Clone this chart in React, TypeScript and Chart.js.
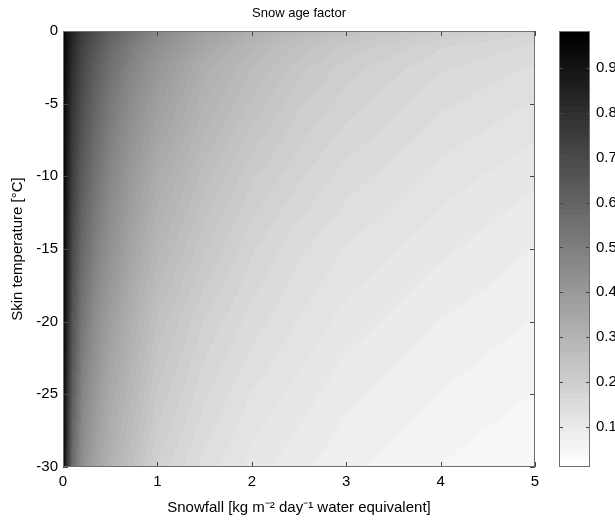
import React, { useEffect, useRef } from "react";
import { Chart, registerables } from "chart.js";

Chart.register(...registerables);

// Snowfall grid (kg m-2 day-1 water equivalent)
const SNOWFALL = [0, 0.05, 0.1, 0.2, 0.35, 0.5, 0.75, 1, 1.5, 2, 2.5, 3, 4, 5];
// Skin temperature grid (°C)
const SKIN_TEMP = [0, -1, -2.5, -5, -10, -15, -20, -25, -30];

// Snow age factor, one row per skin temperature
const AGE_AT_0C = [0.98, 0.9, 0.84, 0.76, 0.68, 0.62, 0.54, 0.47, 0.38, 0.32, 0.28, 0.25, 0.21, 0.18];
const AGE_AT_M1C = [0.98, 0.89, 0.82, 0.73, 0.65, 0.58, 0.5, 0.44, 0.35, 0.29, 0.25, 0.22, 0.18, 0.16];
const AGE_AT_M2_5C = [0.98, 0.88, 0.8, 0.71, 0.62, 0.55, 0.47, 0.41, 0.32, 0.27, 0.23, 0.2, 0.165, 0.145];
const AGE_AT_M5C = [0.98, 0.87, 0.78, 0.68, 0.59, 0.52, 0.44, 0.38, 0.3, 0.25, 0.21, 0.185, 0.15, 0.13];
const AGE_AT_M10C = [0.98, 0.85, 0.74, 0.63, 0.54, 0.47, 0.39, 0.33, 0.26, 0.21, 0.18, 0.155, 0.125, 0.105];
const AGE_AT_M15C = [0.98, 0.83, 0.7, 0.58, 0.49, 0.43, 0.35, 0.29, 0.225, 0.18, 0.15, 0.13, 0.105, 0.085];
const AGE_AT_M20C = [0.98, 0.81, 0.66, 0.53, 0.44, 0.38, 0.31, 0.25, 0.19, 0.155, 0.13, 0.11, 0.085, 0.07];
const AGE_AT_M25C = [0.98, 0.78, 0.62, 0.48, 0.4, 0.34, 0.28, 0.22, 0.165, 0.13, 0.11, 0.09, 0.07, 0.055];
const AGE_AT_M30C = [0.98, 0.75, 0.57, 0.44, 0.36, 0.31, 0.25, 0.19, 0.14, 0.11, 0.09, 0.075, 0.055, 0.04];

const AGE_ROWS = [
  AGE_AT_0C, AGE_AT_M1C, AGE_AT_M2_5C, AGE_AT_M5C, AGE_AT_M10C,
  AGE_AT_M15C, AGE_AT_M20C, AGE_AT_M25C, AGE_AT_M30C,
];

const X_TICKS = [0, 1, 2, 3, 4, 5];
const Y_TICKS = [0, -5, -10, -15, -20, -25, -30];
const CBAR_TICKS = [0.1, 0.2, 0.3, 0.4, 0.5, 0.6, 0.7, 0.8, 0.9];
const CBAR_MIN = 0.01;
const CBAR_MAX = 0.983;
const N_LEVELS = 64;

const TITLE = "Snow age factor";
const X_TITLE = "Snowfall [kg m\u207B\u00B2 day\u207B\u00B9 water equivalent]";
const Y_TITLE = "Skin temperature [\u00B0C]";

const FONT = "'Liberation Sans', Arial, Helvetica, sans-serif";
const AX_SIZE = 15;

function greyFor(v: number): number {
  let idx = Math.floor(((v - CBAR_MIN) / (CBAR_MAX - CBAR_MIN)) * N_LEVELS);
  if (idx < 0) idx = 0;
  if (idx > N_LEVELS - 1) idx = N_LEVELS - 1;
  return Math.round(255 * (1 - idx / (N_LEVELS - 1)));
}

function bracket(arr: number[], v: number, desc: boolean): [number, number] {
  for (let i = 0; i < arr.length - 1; i++) {
    const a = arr[i], b = arr[i + 1];
    const inside = desc ? v <= a && v >= b : v >= a && v <= b;
    if (inside) return [i, (v - a) / (b - a)];
  }
  if (desc) return v > arr[0] ? [0, 0] : [arr.length - 2, 1];
  return v < arr[0] ? [0, 0] : [arr.length - 2, 1];
}

const heatmapPlugin = {
  id: "heatmap",
  beforeDatasetsDraw(chart: any) {
    const { ctx, chartArea: a, scales } = chart;
    const xs = scales.x, ys = scales.y;
    const left = Math.round(a.left), top = Math.round(a.top);
    const w = Math.round(a.right) - left, h = Math.round(a.bottom) - top;
    const img = ctx.createImageData(w, h);
    const colIdx: [number, number][] = [];
    for (let px = 0; px < w; px++) {
      colIdx.push(bracket(SNOWFALL, xs.getValueForPixel(left + px + 0.5), false));
    }
    for (let py = 0; py < h; py++) {
      const [j, tj] = bracket(SKIN_TEMP, ys.getValueForPixel(top + py + 0.5), true);
      const r0 = AGE_ROWS[j], r1 = AGE_ROWS[j + 1];
      for (let px = 0; px < w; px++) {
        const [i, ti] = colIdx[px];
        const v0 = r0[i] + (r0[i + 1] - r0[i]) * ti;
        const v1 = r1[i] + (r1[i + 1] - r1[i]) * ti;
        const v = v0 + (v1 - v0) * tj;
        const g = greyFor(v);
        const o = (py * w + px) * 4;
        img.data[o] = g;
        img.data[o + 1] = g;
        img.data[o + 2] = g;
        img.data[o + 3] = 255;
      }
    }
    ctx.putImageData(img, left, top);
  },
  afterDatasetsDraw(chart: any) {
    const { ctx, chartArea: a, scales } = chart;
    const L = 5;
    ctx.save();
    ctx.lineWidth = 1;
    // inner ticks
    ctx.strokeStyle = "#444";
    ctx.beginPath();
    for (const v of X_TICKS) {
      const x = Math.round(scales.x.getPixelForValue(v)) + 0.5;
      ctx.moveTo(x, a.bottom); ctx.lineTo(x, a.bottom - L);
      ctx.moveTo(x, a.top); ctx.lineTo(x, a.top + L);
    }
    for (const v of Y_TICKS) {
      const y = Math.round(scales.y.getPixelForValue(v)) + 0.5;
      ctx.moveTo(a.left, y); ctx.lineTo(a.left + L, y);
      ctx.moveTo(a.right, y); ctx.lineTo(a.right - L, y);
    }
    ctx.stroke();
    ctx.strokeStyle = "#707070";
    ctx.strokeRect(a.left + 0.5, a.top + 0.5, a.right - a.left - 1, a.bottom - a.top - 1);

    // colour bar
    const cb = scales.cb;
    const cbLeft = Math.round(a.right) + 24;
    const cbW = 31;
    for (let k = 0; k < N_LEVELS; k++) {
      const v0 = CBAR_MIN + (k * (CBAR_MAX - CBAR_MIN)) / N_LEVELS;
      const v1 = CBAR_MIN + ((k + 1) * (CBAR_MAX - CBAR_MIN)) / N_LEVELS;
      const y0 = cb.getPixelForValue(v0);
      const y1 = cb.getPixelForValue(v1);
      const g = Math.round(255 * (1 - k / (N_LEVELS - 1)));
      ctx.fillStyle = `rgb(${g},${g},${g})`;
      ctx.fillRect(cbLeft, Math.floor(y1), cbW, Math.ceil(y0) - Math.floor(y1));
    }
    ctx.strokeStyle = "#444";
    ctx.beginPath();
    for (const v of CBAR_TICKS) {
      const y = Math.round(cb.getPixelForValue(v)) + 0.5;
      ctx.moveTo(cbLeft, y); ctx.lineTo(cbLeft + 4, y);
      ctx.moveTo(cbLeft + cbW, y); ctx.lineTo(cbLeft + cbW - 4, y);
    }
    ctx.stroke();
    ctx.strokeStyle = "#707070";
    ctx.strokeRect(cbLeft + 0.5, Math.round(cb.top) + 0.5, cbW - 1, Math.round(cb.bottom - cb.top) - 1);

    // title
    ctx.fillStyle = "#000";
    ctx.font = `13px ${FONT}`;
    ctx.textAlign = "center";
    ctx.textBaseline = "middle";
    ctx.fillText(TITLE, (a.left + a.right) / 2, 13);
    ctx.restore();
  },
};

function noPad(s: any) {
  s.paddingTop = 0;
  s.paddingBottom = 0;
  s.paddingLeft = 0;
  s.paddingRight = 0;
}

export default function App() {
  const ref = useRef<HTMLCanvasElement | null>(null);
  useEffect(() => {
    if (!ref.current) return;
    const points: { x: number; y: number }[] = [];
    SKIN_TEMP.forEach((t) => SNOWFALL.forEach((s) => points.push({ x: s, y: t })));
    const chart = new Chart(ref.current, {
      type: "scatter",
      data: {
        datasets: [
          {
            label: "grid",
            data: points,
            pointRadius: 0,
            pointHoverRadius: 0,
            xAxisID: "x",
            yAxisID: "y",
          },
        ],
      },
      options: {
        animation: false,
        responsive: false,
        events: [],
        layout: { padding: { top: 31, left: 0, right: 0, bottom: 0 } },
        plugins: {
          legend: { display: false },
          tooltip: { enabled: false },
          title: { display: false },
        },
        scales: {
          x: {
            type: "linear",
            position: "bottom",
            min: 0,
            max: 5,
            grid: { display: false, drawTicks: false },
            border: { display: false },
            afterBuildTicks: (s: any) => { s.ticks = X_TICKS.map((v) => ({ value: v })); },
            ticks: { padding: 6, color: "#000", font: { family: FONT, size: AX_SIZE }, maxRotation: 0 },
            title: { display: true, text: X_TITLE, color: "#000", font: { family: FONT, size: AX_SIZE }, padding: { top: 0, bottom: 3 } },
            afterFit: (s: any) => { s.height = 53; noPad(s); },
          },
          y: {
            type: "linear",
            position: "left",
            min: -30,
            max: 0,
            grid: { display: false, drawTicks: false },
            border: { display: false },
            afterBuildTicks: (s: any) => { s.ticks = Y_TICKS.map((v) => ({ value: v })); },
            ticks: { padding: 5, color: "#000", font: { family: FONT, size: AX_SIZE } },
            title: { display: true, text: Y_TITLE, color: "#000", font: { family: FONT, size: AX_SIZE }, padding: { top: 9, bottom: 0 } },
            afterFit: (s: any) => { s.width = 63; noPad(s); },
          },
          cb: {
            type: "linear",
            position: "right",
            display: true,
            min: CBAR_MIN,
            max: CBAR_MAX,
            grid: { display: false, drawTicks: false },
            border: { display: false },
            afterBuildTicks: (s: any) => { s.ticks = CBAR_TICKS.map((v) => ({ value: v })); },
            ticks: {
              padding: 61,
              color: "#000",
              font: { family: FONT, size: AX_SIZE },
              callback: (v: any) => Number(v).toFixed(1),
            },
            afterFit: (s: any) => { s.width = 80; noPad(s); },
          },
        },
      } as any,
      plugins: [heatmapPlugin],
    });
    return () => chart.destroy();
  }, []);
  return (
    <div style={{ position: "absolute", left: 0, top: 0, width: 615, height: 520, background: "#fff" }}>
      <canvas ref={ref} width={615} height={520} style={{ display: "block", width: 615, height: 520 }} />
    </div>
  );
}
